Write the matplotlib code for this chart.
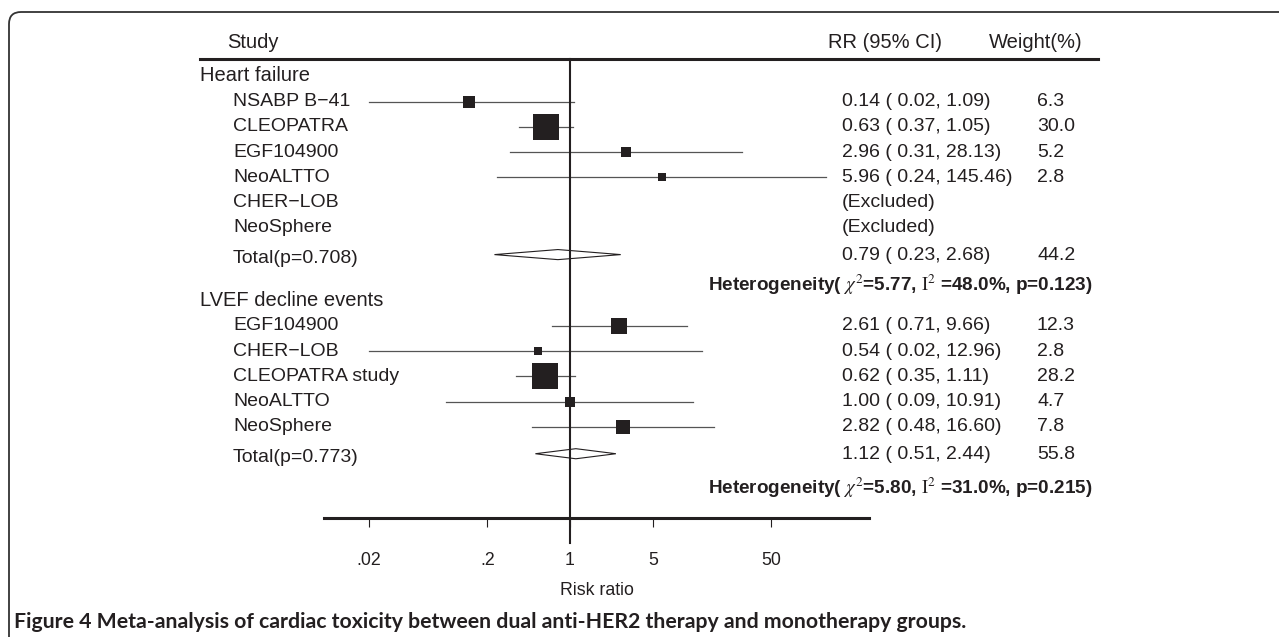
import numpy as np
import matplotlib
matplotlib.use("Agg")
import matplotlib.pyplot as plt
from matplotlib import transforms
from matplotlib.lines import Line2D
from matplotlib.patches import FancyBboxPatch
from matplotlib.ticker import NullLocator

plt.rcParams['font.family'] = ['Liberation Sans', 'DejaVu Sans']
plt.rcParams['mathtext.fontset'] = 'stix'

# heart failure group
hf_studies = ['NSABP B\u221241', 'CLEOPATRA', 'EGF104900', 'NeoALTTO', 'CHER\u2212LOB', 'NeoSphere']
hf_rr = [0.14, 0.63, 2.96, 5.96, None, None]
hf_lo = [0.02, 0.37, 0.31, 0.24, None, None]
hf_hi = [1.09, 1.05, 28.13, 145.46, None, None]
hf_w = [6.3, 30.0, 5.2, 2.8, None, None]
hf_total = (0.79, 0.23, 2.68, 44.2)
hf_p = 0.708
hf_het = (5.77, 48.0, 0.123)

# LVEF decline group
lv_studies = ['EGF104900', 'CHER\u2212LOB', 'CLEOPATRA study', 'NeoALTTO', 'NeoSphere']
lv_rr = [2.61, 0.54, 0.62, 1.00, 2.82]
lv_lo = [0.71, 0.02, 0.35, 0.09, 0.48]
lv_hi = [9.66, 12.96, 1.11, 10.91, 16.60]
lv_w = [12.3, 2.8, 28.2, 4.7, 7.8]
lv_total = (1.12, 0.51, 2.44, 55.8)
lv_p = 0.773
lv_het = (5.80, 31.0, 0.215)

groups = [
    ('Heart failure', hf_studies, hf_rr, hf_lo, hf_hi, hf_w, hf_total, hf_p, hf_het),
    ('LVEF decline events', lv_studies, lv_rr, lv_lo, lv_hi, lv_w, lv_total, lv_p, lv_het),
]

tick_vals = [0.02, 0.2, 1, 5, 50]
tick_labels = ['.02', '.2', '1', '5', '50']

ink = '#231f20'
W, H = 1279, 637

fig = plt.figure(figsize=(W / 100, H / 100), dpi=100)
ax = fig.add_axes([324 / W, 1 - 518 / H, 545 / W, (518 - 59) / H])
ax.set_xscale('log')
ax.set_xlim(0.00836, 335)
ax.set_ylim(17.54, -0.67)
for s in ['top', 'left', 'right']:
    ax.spines[s].set_visible(False)
ax.spines['bottom'].set_linewidth(2.2)
ax.spines['bottom'].set_color(ink)
ax.set_yticks([])
ax.set_xticks(tick_vals)
ax.set_xticklabels(tick_labels)
ax.xaxis.set_minor_locator(NullLocator())
ax.tick_params(axis='x', direction='out', length=6.5, width=0.8, color=ink,
               labelsize=12.8, labelcolor=ink, pad=18)
ax.set_xlabel('Risk ratio', fontsize=12.8, color=ink, labelpad=9)

# mixed transform: x in figure fraction, y in row units
tr = transforms.blended_transform_factory(fig.transFigure, ax.transData)

x_group = 200 / W
x_study = 233 / W
x_rr = 842 / W
x_wt = 1037 / W
fs = 14
fs_head = 14.5

# header
fig.text(227 / W, 1 - 42 / H, 'Study', fontsize=fs_head, color=ink, va='center')
fig.text(828 / W, 1 - 42 / H, 'RR (95% CI)', fontsize=fs_head, color=ink, va='center')
fig.text(989 / W, 1 - 42 / H, 'Weight(%)', fontsize=fs_head, color=ink, va='center')
ax.add_line(Line2D([200 / W, 1098 / W], [-0.67, -0.67], transform=tr,
                   color=ink, lw=2.2, clip_on=False))

starts = [0.0, 8.9]
for (name, studies, rr, lo, hi, w, total, p, het), y0 in zip(groups, starts):
    ax.text(x_group, y0, name, transform=tr, fontsize=fs_head, color=ink, va='center')
    ys = y0 + 1.02 + np.arange(len(studies))
    for i, st in enumerate(studies):
        y = ys[i]
        ax.text(x_study, y, st, transform=tr, fontsize=fs, color=ink, va='center')
        if rr[i] is None:
            ax.text(x_rr, y, '(Excluded)', transform=tr, fontsize=fs, color=ink, va='center')
            continue
        ax.plot([lo[i], hi[i]], [y, y], color='#555555', lw=0.9, zorder=2)
        ax.scatter([rr[i]], [y], marker='s', s=11.7 * w[i], color=ink, zorder=3, linewidths=0)
        ax.text(x_rr, y, f'{rr[i]:.2f} ( {lo[i]:.2f}, {hi[i]:.2f})', transform=tr,
                fontsize=fs, color=ink, va='center')
        ax.text(x_wt, y, f'{w[i]:.1f}', transform=tr, fontsize=fs, color=ink, va='center')

    yt = ys[-1] + 1.12
    est, tlo, thi, tw = total
    ax.fill([tlo, est, thi, est], [yt - 0.05, yt - 0.25, yt - 0.05, yt + 0.15],
            facecolor='white', edgecolor=ink, lw=0.8, zorder=3)
    ax.text(x_study, yt + 0.1, f'Total(p={p:.3f})', transform=tr, fontsize=fs, color=ink, va='center')
    ax.text(x_rr, yt, f'{est:.2f} ( {tlo:.2f}, {thi:.2f})', transform=tr,
            fontsize=fs, color=ink, va='center')
    ax.text(x_wt, yt, f'{tw:.1f}', transform=tr, fontsize=fs, color=ink, va='center')

    yh = yt + (1.15 if y0 == 0 else 1.3)
    chi, i2, ph = het
    ax.text(1092 / W, yh,
            f'Heterogeneity( $\\chi^2$={chi:.2f}, $\\mathrm{{I}}^2$ =' + f'{i2:.1f}%, p={ph:.3f})',
            transform=tr, fontsize=13.6, fontweight='bold', color=ink, va='center', ha='right')

# reference line at RR = 1
ax.plot([1, 1], [-0.67, 18.53], color=ink, lw=1.5, clip_on=False, zorder=4)

# frame
frame = FancyBboxPatch((0.09, -0.5), 13.5, 6.75, boxstyle='round,pad=0,rounding_size=0.12',
                       transform=fig.dpi_scale_trans, facecolor='none', edgecolor='#333333', lw=1.3)
fig.patches.append(frame)

fig.text(14 / W, 1 - 622 / H,
         'Figure 4 Meta-analysis of cardiac toxicity between dual anti-HER2 therapy and monotherapy groups.',
         fontsize=15.3, fontweight='bold', family=['Lato', 'DejaVu Sans'], color=ink, va='center')

fig.savefig('out.png', dpi=100)
